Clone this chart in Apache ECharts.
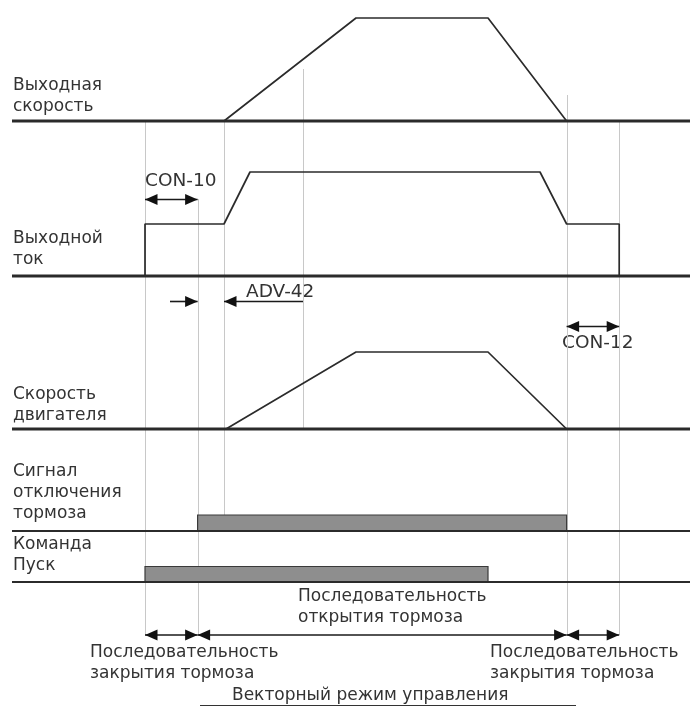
<!DOCTYPE html>
<html>
<head>
<meta charset="utf-8">
<script src="https://cdn.jsdelivr.net/npm/echarts@6/dist/echarts.min.js"></script>
<style>
  html, body { margin: 0; padding: 0; background: #fff; }
  #chart { width: 690px; height: 708px; }
</style>
</head>
<body>
<div id="chart"></div>
<script>
// ---- data: time (x, arbitrary units) and relative level (0..1) ----
const timeEnd = 339

// Выходная скорость
const speedT = [0, 106, 172, 238, 277.3, timeEnd]
const speedV = [0, 0, 1, 1, 0, 0]
// Выходной ток
const currentT = [0, 66.5, 66.5, 106, 119, 264, 277.3, 303.6, 303.6, timeEnd]
const currentV = [0, 0, 0.5, 0.5, 1, 1, 0.5, 0.5, 0, 0]
// Скорость двигателя
const motorT = [0, 107, 172, 238, 277.3, timeEnd]
const motorV = [0, 0, 1, 1, 0, 0]
// Сигнал отключения тормоза / Команда Пуск (on .. off)
const brakeOn = [92.8, 277.3]
const runOn = [66.5, 238]

// vertical guide lines (event times)
const guideT = [66.5, 92.8, 106, 145.5, 277.3, 303.6]

// ---- layout (pixels from top) ----
const lanes = {
  speed:   { base: 121, amp: 103 },
  current: { base: 276, amp: 104 },
  motor:   { base: 429, amp: 77 },
  brake:   { base: 531, amp: 16 },
  run:     { base: 582, amp: 15.5 }
}
const arrowRowBottom = 635
// guide extents [top, bottom] for each guide
const guideSpan = [[121, 635], [199, 635], [121, 515], [69, 429], [95, 635], [121, 635]]

const ink = '#2b2b2b'
const textFont = '17px "DejaVu Sans"'
const tagFont = '18.5px "DejaVu Sans"'

const toPts = (ts, vs, lane) => ts.map((t, i) => [t, lane.base - vs[i] * lane.amp])

// arrows: [t1, t2, y, headAtT1, headAtT2]
const arrows = [
  [guideT[0], guideT[1], 199.5, 1, 1],          // CON-10
  [79, guideT[1], 301.5, 0, 1],                 // ADV-42 left
  [guideT[2], guideT[3], 301.5, 1, 0],          // ADV-42 right
  [guideT[4], guideT[5], 326.5, 1, 1],          // CON-12
  [guideT[0], guideT[1], arrowRowBottom, 1, 1],
  [guideT[1], guideT[4], arrowRowBottom, 1, 1],
  [guideT[4], guideT[5], arrowRowBottom, 1, 1]
]

const chart = echarts.init(document.getElementById('chart'))

const lineSeries = (data, width) => ({
  type: 'line',
  data: data,
  symbol: 'none',
  silent: true,
  animation: false,
  lineStyle: { color: ink, width: width }
})

const series = []
// guides first (under everything)
series.push({
  type: 'custom',
  silent: true,
  animation: false,
  clip: false,
  data: guideT.map((t, i) => [t, guideSpan[i][0], guideSpan[i][1]]),
  encode: { x: 0, y: [1, 2] },
  renderItem: (params, api) => {
    const a = api.coord([api.value(0), api.value(1)])
    const b = api.coord([api.value(0), api.value(2)])
    return {
      type: 'line',
      shape: { x1: Math.round(a[0]) + 0.5, y1: a[1], x2: Math.round(a[0]) + 0.5, y2: b[1] },
      style: { stroke: '#c8c8c8', lineWidth: 1 }
    }
  }
})
// baselines
Object.keys(lanes).forEach((k, i) => {
  series.push(lineSeries([[0, lanes[k].base], [timeEnd, lanes[k].base]], i < 3 ? 3 : 2))
})
// waveforms
series.push(lineSeries(toPts(speedT, speedV, lanes.speed), 1.7))
series.push(lineSeries(toPts(currentT, currentV, lanes.current), 1.7))
series.push(lineSeries(toPts(motorT, motorV, lanes.motor), 1.7))
// on/off bars
series.push({
  type: 'custom',
  silent: true,
  animation: false,
  data: [
    [brakeOn[0], brakeOn[1], lanes.brake.base, lanes.brake.base - lanes.brake.amp],
    [runOn[0], runOn[1], lanes.run.base, lanes.run.base - lanes.run.amp]
  ],
  encode: { x: [0, 1], y: [2, 3] },
  renderItem: (params, api) => {
    const a = api.coord([api.value(0), api.value(3)])
    const b = api.coord([api.value(1), api.value(2)])
    return {
      type: 'rect',
      shape: { x: a[0], y: a[1], width: b[0] - a[0], height: b[1] - a[1] },
      style: { fill: '#8e8e8e', stroke: '#3a3a3a', lineWidth: 1.2 }
    }
  }
})
// arrows
series.push({
  type: 'custom',
  silent: true,
  animation: false,
  clip: false,
  data: arrows,
  encode: { x: [0, 1], y: 2 },
  renderItem: (params, api) => {
    const p1 = api.coord([api.value(0), api.value(2)])
    const p2 = api.coord([api.value(1), api.value(2)])
    const L = 12.5, W = 5.5
    const kids = [{
      type: 'line',
      shape: { x1: p1[0], y1: p1[1], x2: p2[0], y2: p2[1] },
      style: { stroke: '#1a1a1a', lineWidth: 1.6 }
    }]
    if (api.value(3)) {
      kids.push({ type: 'polygon', shape: { points: [[p1[0], p1[1]], [p1[0] + L, p1[1] - W], [p1[0] + L, p1[1] + W]] }, style: { fill: '#111' } })
    }
    if (api.value(4)) {
      kids.push({ type: 'polygon', shape: { points: [[p2[0], p2[1]], [p2[0] - L, p2[1] - W], [p2[0] - L, p2[1] + W]] }, style: { fill: '#111' } })
    }
    return { type: 'group', children: kids }
  }
})

const txt = (left, top, text, font) => ({
  type: 'text',
  left: left,
  top: top,
  silent: true,
  style: { text: text, font: font || textFont, lineHeight: 21, fill: '#333' }
})

chart.setOption({
  animation: false,
  grid: { left: 12, right: 0, top: 0, bottom: 0 },
  xAxis: { type: 'value', min: 0, max: timeEnd, show: false },
  yAxis: { type: 'value', min: 0, max: 708, inverse: true, show: false },
  series: series,
  graphic: [
    txt(13, 75.5, 'Выходная\nскорость'),
    txt(13, 228.5, 'Выходной\nток'),
    txt(13, 384.5, 'Скорость\nдвигателя'),
    txt(13, 461.5, 'Сигнал\nотключения\nтормоза'),
    txt(13, 534.5, 'Команда\nПуск'),
    txt(145, 171, 'CON-10', tagFont),
    txt(246, 282, 'ADV-42', tagFont),
    txt(562, 332.5, 'CON-12', tagFont),
    txt(298, 586.5, 'Последовательность\nоткрытия тормоза'),
    txt(90, 642.5, 'Последовательность\nзакрытия тормоза'),
    txt(490, 642.5, 'Последовательность\nзакрытия тормоза'),
    txt(232, 685.5, 'Векторный режим управления'),
    {
      type: 'line',
      silent: true,
      shape: { x1: 200, y1: 705.5, x2: 576, y2: 705.5 },
      style: { stroke: '#333', lineWidth: 1 }
    }
  ]
})
</script>
</body>
</html>
